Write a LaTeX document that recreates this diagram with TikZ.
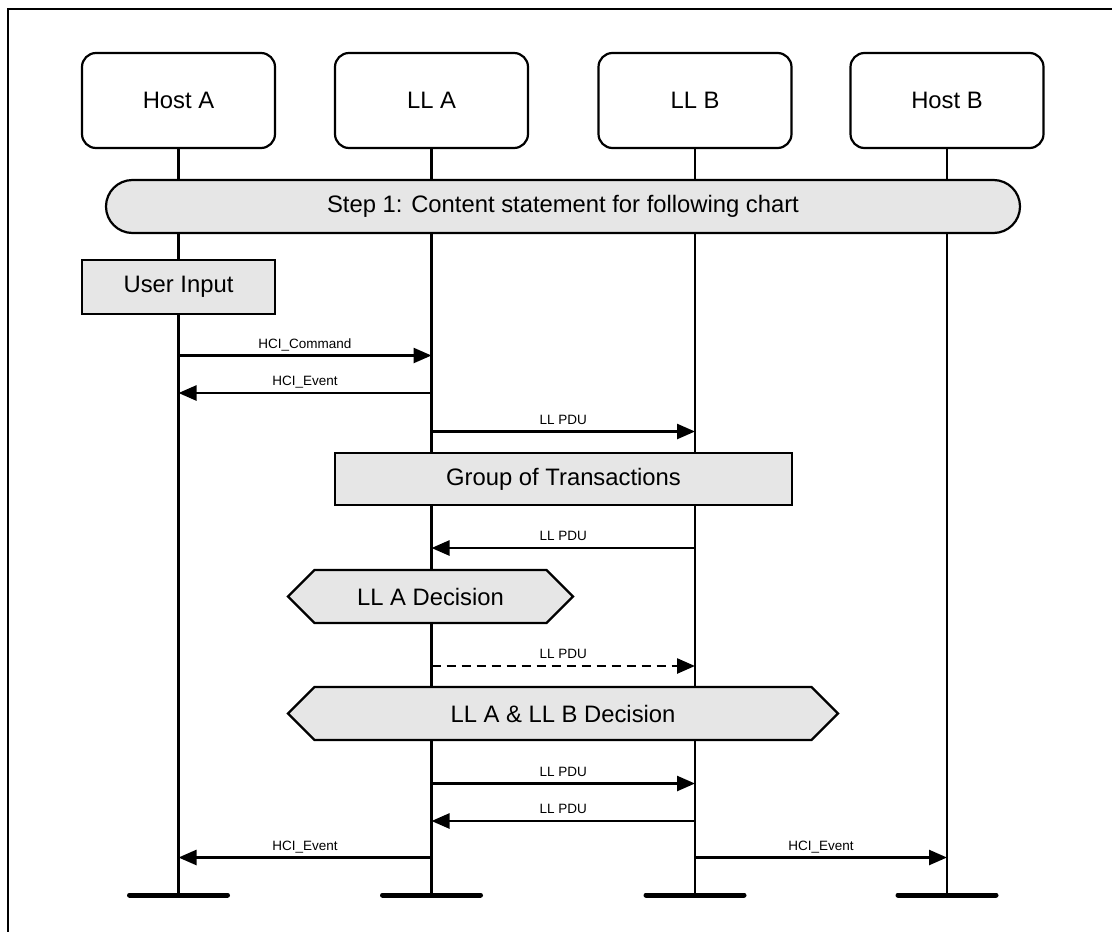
\documentclass[tikz,border=0pt]{standalone}
\usepackage{fontspec}
\setmainfont{Liberation Sans}
\usetikzlibrary{arrows.meta,shapes.symbols}
\definecolor{boxgray}{HTML}{E6E6E6}
\tikzset{
  hdr/.style={draw, line width=2.2pt, rounded corners=14pt, fill=white, minimum width=193pt, minimum height=95pt, font=\fontsize{23.8}{28}\selectfont, inner sep=0pt},
  life/.style={line width=2.2pt},
  endbar/.style={line width=5pt, line cap=round},
  graybox/.style={draw, line width=2.2pt, fill=boxgray, font=\fontsize{23.8}{28}\selectfont, inner sep=0pt},
  hexbox/.style={graybox, signal, signal to=west and east, signal pointer angle=90, minimum height=53pt},
  msg/.style={line width=2.5pt, -{Triangle[length=18pt,width=15pt]}},
  lab/.style={font=\fontsize{13.5}{16}\selectfont, inner sep=0pt, anchor=base, yshift=7.5pt},
}
\begin{document}
\begin{tikzpicture}[x=1pt,y=-1pt]
\useasboundingbox (0,0) rectangle (1112,932);
% frame
\draw[line width=2.5pt] (8,932) -- (8,9) -- (1112,9);
% header boxes
\node[hdr] (hA) at (178.5,100.5) {Host A};
\node[hdr] (lA) at (431.5,100.5) {LL A};
\node[hdr] (lB) at (695,100.5) {LL B};
\node[hdr] (hB) at (947,100.5) {Host B};
% lifeline ends
\coordinate (eA) at (178.5,895);
\coordinate (eLA) at (431.5,895);
\coordinate (eLB) at (695,895);
\coordinate (eB) at (947,895);
\draw[life] (hA) -- (eA);
\draw[life] (lA) -- (eLA);
\draw[life] (lB) -- (eLB);
\draw[life] (hB) -- (eB);
\foreach \e in {eA,eLA,eLB,eB}{
  \draw[endbar] ([xshift=-49pt]\e) -- ([xshift=49pt]\e);
}
% gray boxes
\node[graybox, rounded corners=26.5pt, minimum width=914pt, minimum height=53pt] (step) at (563,206.5) {Step 1: Content statement for following chart};
\node[graybox, minimum width=193pt, minimum height=54pt] (user) at (178.5,287) {User Input};
\node[graybox, minimum width=457pt, minimum height=52pt] (group) at (563.5,479) {Group of Transactions};
\node[hexbox, minimum width=285pt] (decA) at (430.5,596.5) {LL A Decision};
\node[hexbox, minimum width=550pt] (decAB) at (563,713.5) {LL A \& LL B Decision};
% messages
\draw[msg] (hA |- 0,355.5) -- node[lab]{HCI\_Command} (lA |- 0,355.5);
\draw[msg] (lA |- 0,393) -- node[lab]{HCI\_Event} (hA |- 0,393);
\draw[msg] (lA |- 0,431.5) -- node[lab]{LL PDU} (lB |- 0,431.5);
\draw[msg] (lB |- 0,548) -- node[lab]{LL PDU} (lA |- 0,548);
\draw[msg, dash pattern=on 9pt off 6pt] (lA |- 0,666) -- node[lab]{LL PDU} (lB |- 0,666);
\draw[msg] (lA |- 0,783.5) -- node[lab]{LL PDU} (lB |- 0,783.5);
\draw[msg] (lB |- 0,821) -- node[lab]{LL PDU} (lA |- 0,821);
\draw[msg] (lA |- 0,857.5) -- node[lab]{HCI\_Event} (hA |- 0,857.5);
\draw[msg] (lB |- 0,857.5) -- node[lab]{HCI\_Event} (hB |- 0,857.5);
\end{tikzpicture}
\end{document}
